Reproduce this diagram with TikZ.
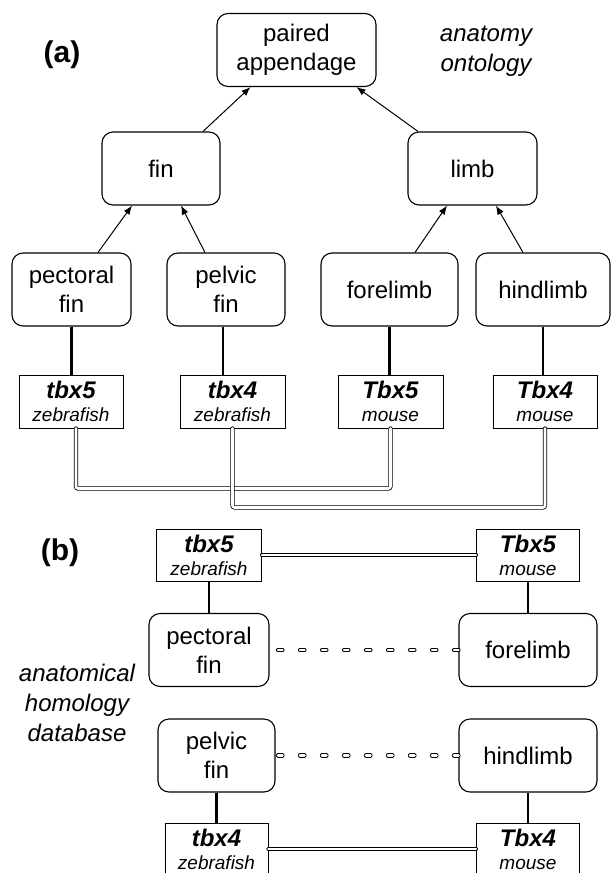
\documentclass[tikz,border=0pt]{standalone}
\usepackage{fontspec}
\setmainfont{Liberation Sans}
\usetikzlibrary{arrows.meta, positioning}

\begin{document}
\begin{tikzpicture}[
    x=1pt, y=-1pt,
    on grid,
    >={Latex[length=9pt,width=7pt]},
    term/.style={draw, rounded corners=11pt, line width=1.1pt, align=center, minimum height=73pt, inner sep=0pt, font=\fontsize{24}{29}\selectfont},
    gene/.style={draw, line width=0.9pt, align=center, minimum height=53pt, inner sep=0pt, font=\fontsize{24}{23}\selectfont},
    isa/.style={->, line width=1pt},
    annot/.style={line width=2.3pt},
    ortho/.style={double, double distance=2.6pt, line width=0.8pt, line cap=round, rounded corners=2pt},
    homol/.style={ortho, dash pattern=on 4.5pt off 17.5pt},
    panel/.style={font=\fontsize{30}{36}\selectfont\bfseries},
    remark/.style={align=center, font=\fontsize{24}{30}\selectfont\itshape}
]
   \useasboundingbox (0,0) rectangle (611,873);

   % (a) anatomy ontology
   \node[panel] (labelA) at (62,55) {(a)};
   \node[remark] (ontology) at (486,51) {anatomy\\ontology};

   \node[term, minimum width=159pt] (paired) at (296.5,50) {paired\\appendage};
   \node[term, minimum width=118pt] (fin) at (161,168.5) {fin};
   \node[term, minimum width=129pt] (limb) at (472.5,168.5) {limb};
   \node[term, minimum width=119pt] (pectoral) at (71.5,289.5) {pectoral\\fin};
   \node[term, minimum width=118pt] (pelvic) at (226,289.5) {pelvic\\fin};
   \node[term, minimum width=137pt] (forelimb) at (389.5,289.5) {forelimb};
   \node[term, minimum width=134pt] (hindlimb) at (543,289.5) {hindlimb};

   % genes annotated to the terms
   \node[gene, minimum width=104pt] (tbx5z) at (71,401.5) {{\bfseries\itshape tbx5}\\{\fontsize{19}{23}\selectfont\itshape zebrafish}};
   \node[gene, minimum width=105pt] (tbx4z) at (232.5,401.5) {{\bfseries\itshape tbx4}\\{\fontsize{19}{23}\selectfont\itshape zebrafish}};
   \node[gene, minimum width=105pt] (Tbx5m) at (390.5,401.5) {{\bfseries\itshape Tbx5}\\{\fontsize{19}{23}\selectfont\itshape mouse}};
   \node[gene, minimum width=104pt] (Tbx4m) at (545,401.5) {{\bfseries\itshape Tbx4}\\{\fontsize{19}{23}\selectfont\itshape mouse}};

   % is_a links
   \path[isa]
   ([xshift=42pt]fin.north) edge ([xshift=-46pt]paired.south)
   ([xshift=-54.5pt]limb.north) edge ([xshift=60pt]paired.south)
   ([xshift=26.5pt]pectoral.north) edge ([xshift=-29pt]fin.south)
   ([xshift=-21pt]pelvic.north) edge ([xshift=20pt]fin.south)
   ([xshift=25.5pt]forelimb.north) edge ([xshift=-25.5pt]limb.south)
   ([xshift=-20pt]hindlimb.north) edge ([xshift=23.5pt]limb.south);

   % annotations
   \draw[annot] (pectoral.south) -- (pectoral.south |- tbx5z.north);
   \draw[annot] ([xshift=-3pt]pelvic.south) -- ([xshift=-3pt]pelvic.south |- tbx4z.north);
   \draw[annot] (forelimb.south) -- (forelimb.south |- Tbx5m.north);
   \draw[annot] (hindlimb.south) -- (hindlimb.south |- Tbx4m.north);

   % orthology
   \draw[ortho] ([xshift=5pt]tbx5z.south) -- ++(0,60) -| (Tbx5m.south);
   \draw[ortho] (tbx4z.south) -- ++(0,79) -| (Tbx4m.south);

   % (b) anatomical homology
   \node[panel] (labelB) at (60,553) {(b)};
   \node[term, minimum width=120pt] (pectoralB) at (209,650) {pectoral\\fin};
   \node[term, minimum width=138pt, right=319pt of pectoralB] (forelimbB) {forelimb};
   \node[gene, minimum width=105pt, minimum height=52pt, above=95pt of pectoralB] (tbx5zB) {{\bfseries\itshape tbx5}\\{\fontsize{19}{23}\selectfont\itshape zebrafish}};
   \node[gene, minimum width=103pt, minimum height=52pt, above=95pt of forelimbB] (Tbx5mB) {{\bfseries\itshape Tbx5}\\{\fontsize{19}{23}\selectfont\itshape mouse}};

   \node[remark] (homology) at (77,703) {anatomical\\homology\\database};

   \node[term, minimum width=117pt] (pelvicB) at (216.5,755.5) {pelvic\\fin};
   \node[term, minimum width=138pt] (hindlimbB) at (528,755.5) {hindlimb};
   \node[gene, minimum width=103pt, minimum height=52pt, below=93.5pt of pelvicB] (tbx4zB) {{\bfseries\itshape tbx4}\\{\fontsize{19}{23}\selectfont\itshape zebrafish}};
   \node[gene, minimum width=103pt, minimum height=52pt, below=93.5pt of hindlimbB] (Tbx4mB) {{\bfseries\itshape Tbx4}\\{\fontsize{19}{23}\selectfont\itshape mouse}};

   \draw[annot] (tbx5zB.south) -- (pectoralB.north);
   \draw[annot] (Tbx5mB.south) -- (forelimbB.north);
   \draw[annot] (pelvicB.south) -- (tbx4zB.north);
   \draw[annot] (hindlimbB.south) -- (Tbx4mB.north);

   \draw[ortho] (tbx5zB.east) -- (Tbx5mB.west);
   \draw[homol] (forelimbB.west) -- (pectoralB.east);
   \draw[homol] (hindlimbB.west) -- (pelvicB.east);
   \draw[ortho] (tbx4zB.east) -- (Tbx4mB.west);
\end{tikzpicture}
\end{document}
